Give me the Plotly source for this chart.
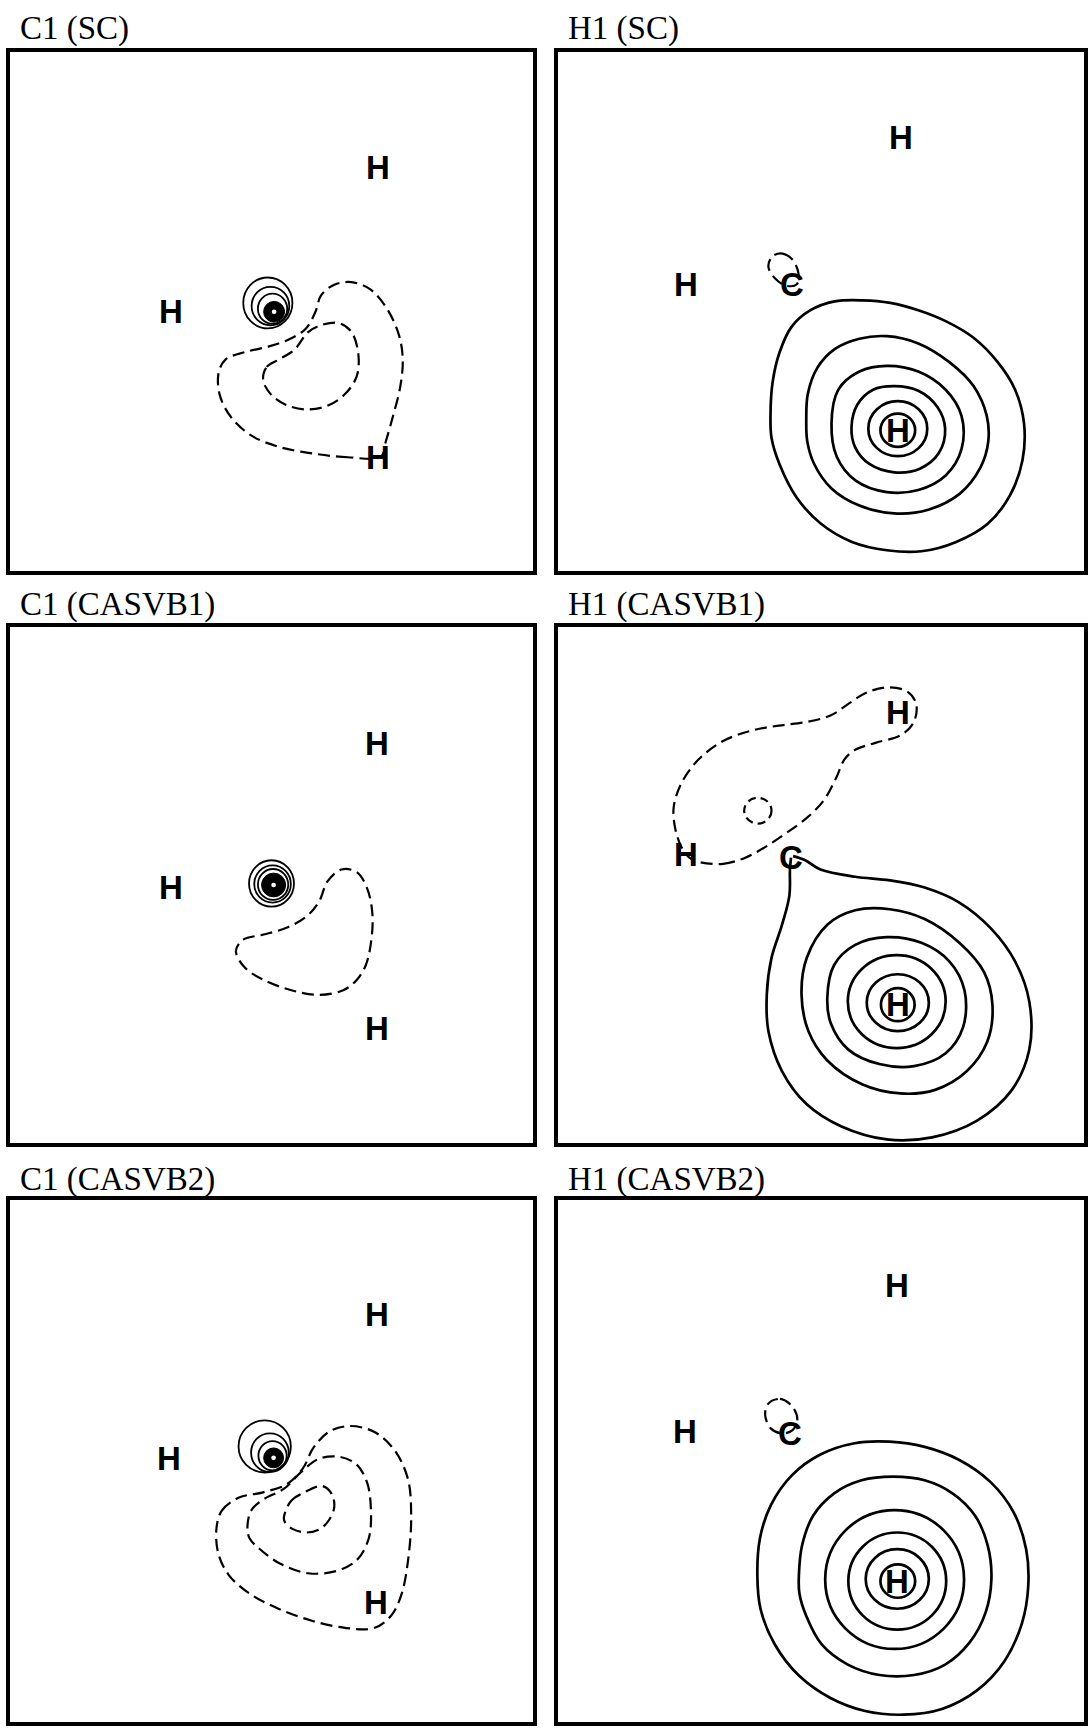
import plotly.graph_objects as go

FIG_W, FIG_H = 1088, 1729

# ---------------------------------------------------------------------------
# Panel titles (row by row, left then right)
# ---------------------------------------------------------------------------
TITLES = ["C1 (SC)", "H1 (SC)", "C1 (CASVB1)", "H1 (CASVB1)", "C1 (CASVB2)", "H1 (CASVB2)"]

# Every panel uses the same plane coordinates: 0..100 in x and in y.

# ---------------------------------------------------------------------------
# Atom positions (symbol, x, y)
# ---------------------------------------------------------------------------
ATOMS_C1_SC = [("H", 70.3, 77.6), ("H", 30.7, 49.9), ("H", 70.3, 21.9)]
ATOMS_H1_SC = [("H", 65.2, 83.4), ("H", 24.3, 55.2), ("C", 44.4, 55.2), ("H", 64.6, 27.1)]
ATOMS_C1_CASVB1 = [("H", 70.2, 77.5), ("H", 30.7, 49.6), ("H", 70.2, 22.1)]
ATOMS_H1_CASVB1 = [("H", 64.6, 83.4), ("H", 24.3, 55.9), ("C", 44.3, 55.3), ("H", 64.6, 26.8)]
ATOMS_C1_CASVB2 = [("H", 70.1, 78.0), ("H", 30.4, 50.4), ("H", 69.9, 22.9)]
ATOMS_H1_CASVB2 = [("H", 64.4, 83.6), ("H", 24.2, 55.7), ("C", 44.2, 55.3), ("H", 64.5, 27.0)]

# ---------------------------------------------------------------------------
# Near-circular contours (cx, cy, rx, ry)
# ---------------------------------------------------------------------------
# carbon core rings, outermost first
CORE_C1_SC = [(49.3, 51.6, 4.7, 4.9), (49.8, 51.0, 3.6, 3.7), (50.2, 50.5, 2.8, 2.9)]
CORE_C1_CASVB1 = [(50.0, 50.3, 4.3, 4.5), (50.2, 50.2, 3.5, 3.6), (50.3, 50.1, 2.9, 3.0)]
CORE_C1_CASVB2 = [(48.7, 52.8, 5.0, 5.0), (49.7, 51.6, 3.6, 3.7), (50.2, 51.0, 2.7, 2.8)]
# dense nucleus region (cx, cy, r) and its centre dot
NUC_C1_SC = (50.5, 49.9, 2.0)
NUC_C1_CASVB1 = (50.4, 50.0, 2.3)
NUC_C1_CASVB2 = (50.4, 50.6, 1.9)
NUC_DOT_R = 0.45

# innermost positive rings around the hydrogen
RINGS_H1_SC = [(64.6, 27.4, 5.6, 5.3), (64.6, 27.1, 3.3, 3.2)]
RINGS_H1_CASVB1 = [(64.4, 27.4, 9.3, 9.0), (64.6, 27.2, 5.9, 5.5), (64.6, 26.8, 3.2, 3.2)]
RINGS_H1_CASVB2 = [(64.0, 27.3, 13.2, 13.3), (64.5, 27.0, 9.3, 9.3), (64.5, 27.4, 6.0, 5.7), (64.6, 27.0, 3.3, 3.2)]
# small negative oval
OVAL_H1_CASVB1 = [(38.0, 64.4, 2.6, 2.5)]

# ---------------------------------------------------------------------------
# Free-form contours (point lists, x, y); closed unless noted
# ---------------------------------------------------------------------------
C1_SC_NEG_OUTER = [
    (70.9, 22.0), (64.6, 21.9), (58.0, 22.6), (51.4, 23.9), (46.1, 26.1), (42.2, 29.7),
    (40.1, 33.9), (39.9, 38.2), (41.2, 40.7), (44.8, 42.1), (49.4, 43.2), (53.4, 44.6),
    (56.6, 46.7), (58.4, 49.9), (59.5, 53.1), (62.0, 55.1), (65.3, 55.6), (68.9, 54.2),
    (72.2, 50.3), (74.4, 45.3), (75.1, 40.7), (74.6, 35.4), (73.2, 29.7), (71.9, 25.1),
]
C1_SC_NEG_INNER = [
    (48.4, 36.8), (49.1, 39.3), (51.4, 40.7), (54.4, 42.6), (57.0, 46.0), (59.7, 47.4),
    (63.0, 47.7), (65.3, 46.0), (66.6, 41.8), (66.3, 37.5), (64.1, 34.1), (60.7, 31.8),
    (56.7, 31.1), (52.7, 32.0), (49.8, 34.1),
]

H1_SC_NEG_C = [
    (40.8, 60.6), (42.7, 61.1), (44.6, 59.9), (45.7, 57.4), (45.4, 55.2), (43.4, 54.9),
    (41.3, 56.3), (40.0, 58.6),
]
H1_SC_POS_1 = [
    (40.4, 29.9), (40.8, 36.3), (42.1, 42.0), (44.4, 47.0), (48.0, 50.2), (52.6, 51.9),
    (57.9, 52.1), (63.2, 51.6), (68.5, 50.2), (73.7, 48.1), (79.0, 44.9), (83.6, 40.2),
    (86.9, 34.9), (88.6, 28.4), (88.3, 21.3), (85.9, 14.5), (81.7, 9.1), (75.7, 5.6),
    (69.1, 3.8), (62.5, 4.0), (55.9, 5.6), (50.0, 9.1), (45.4, 14.1), (42.1, 20.6),
    (40.6, 25.6),
]
H1_SC_POS_2 = [
    (47.2, 29.1), (47.5, 34.1), (49.3, 39.1), (52.6, 42.7), (57.3, 44.7), (62.5, 45.2),
    (68.5, 43.8), (74.4, 40.2), (79.0, 35.6), (81.5, 29.9), (81.8, 24.9), (80.3, 19.9),
    (76.4, 14.9), (70.4, 11.8), (63.9, 11.1), (57.3, 12.6), (52.0, 15.9), (48.7, 20.6),
    (47.4, 24.9),
]
H1_SC_POS_3 = [
    (52.0, 28.4), (53.3, 34.9), (57.3, 38.4), (62.5, 39.5), (68.5, 38.4), (73.7, 34.9),
    (76.7, 29.9), (76.7, 23.4), (73.7, 18.4), (68.5, 15.6), (62.5, 15.2), (56.6, 17.4),
    (53.0, 22.0),
]
H1_SC_POS_4 = [
    (55.8, 27.7), (56.9, 32.0), (59.9, 34.9), (63.9, 35.6), (68.5, 34.7), (72.1, 31.6),
    (73.6, 27.4), (72.4, 22.7), (68.8, 19.7), (63.9, 19.0), (59.2, 20.6), (56.5, 23.8),
]

C1_CASVB1_NEG = [
    (43.2, 37.2), (44.6, 39.4), (48.5, 40.4), (53.1, 41.8), (56.8, 44.0), (59.1, 46.8),
    (60.7, 50.7), (63.4, 53.0), (66.3, 52.5), (68.3, 49.3), (69.3, 44.3), (69.0, 38.7),
    (68.0, 34.4), (66.3, 31.6), (63.7, 29.6), (59.1, 28.7), (53.8, 29.6), (48.5, 31.6),
    (44.9, 34.0),
]

H1_CASVB1_NEG = [
    (27.1, 54.4), (31.4, 54.1), (35.4, 55.2), (39.3, 57.3), (43.3, 60.0), (47.3, 63.0),
    (50.6, 66.5), (52.9, 70.8), (54.5, 74.4), (56.5, 76.2), (60.5, 77.6), (65.1, 79.0),
    (67.6, 81.5), (68.1, 85.1), (66.4, 87.5), (62.5, 88.3), (58.5, 87.2), (55.2, 85.1),
    (51.9, 82.9), (47.3, 81.6), (42.0, 80.9), (36.7, 79.9), (31.4, 77.9), (26.8, 74.4),
    (23.5, 69.8), (22.0, 65.1), (22.3, 60.9), (23.5, 57.3), (25.1, 55.2),
]
# teardrop with its tip on the carbon: drawn open, both ends at the tip
H1_CASVB1_POS_1 = [
    (44.7, 55.6), (47.0, 54.8), (49.9, 53.0), (56.5, 51.6), (63.1, 50.9), (69.7, 49.5),
    (76.3, 46.6), (82.3, 41.6), (86.9, 35.2), (89.6, 27.4), (89.6, 18.1), (86.3, 10.3),
    (79.6, 4.3), (71.1, 1.1), (62.5, 0.7), (53.9, 3.2), (47.3, 7.5), (42.6, 13.9),
    (40.0, 21.7), (39.7, 28.8), (40.6, 35.9), (42.6, 42.3), (44.0, 48.0), (44.1, 53.0),
    (44.3, 55.3),
]
H1_CASVB1_POS_2 = [
    (46.3, 28.8), (47.3, 35.9), (51.2, 42.3), (56.5, 45.1), (63.1, 45.3), (69.7, 43.4),
    (76.3, 38.8), (81.0, 33.1), (82.6, 26.7), (81.6, 19.6), (77.7, 13.9), (71.7, 10.3),
    (65.1, 9.6), (57.8, 11.4), (51.2, 16.0), (47.6, 21.7),
]
H1_CASVB1_POS_3 = [
    (51.2, 28.1), (52.5, 34.5), (56.5, 38.4), (62.5, 39.9), (69.1, 38.8), (74.4, 35.2),
    (77.3, 29.5), (77.0, 22.4), (73.7, 17.4), (67.7, 14.9), (61.1, 15.3), (55.2, 18.1),
    (51.9, 23.1),
]

C1_CASVB2_NEG_1 = [
    (39.5, 37.3), (40.5, 40.5), (43.8, 43.0), (48.4, 44.0), (53.0, 45.6), (56.0, 48.6),
    (58.0, 52.5), (61.0, 55.6), (64.9, 56.7), (69.6, 55.6), (73.5, 52.1), (76.1, 46.5),
    (76.7, 39.4), (76.2, 31.7), (74.9, 24.6), (72.9, 20.4), (69.6, 18.0), (64.3, 18.0),
    (57.7, 19.4), (51.1, 21.8), (45.8, 24.6), (41.8, 28.2), (39.8, 32.4),
]
C1_CASVB2_NEG_2 = [
    (45.4, 37.3), (46.1, 40.5), (48.4, 42.6), (52.4, 44.7), (55.7, 47.9), (59.0, 50.4),
    (63.0, 50.8), (66.3, 49.3), (68.3, 45.8), (69.0, 40.8), (68.6, 35.2), (66.3, 31.0),
    (62.3, 28.9), (57.0, 28.5), (51.7, 30.3), (47.8, 33.1), (45.8, 35.2),
]
C1_CASVB2_NEG_3 = [
    (52.4, 39.4), (53.7, 42.3), (56.3, 44.0), (59.7, 45.2), (61.5, 43.7), (62.0, 41.2),
    (61.0, 38.7), (59.3, 37.0), (56.7, 36.3), (54.0, 37.0), (52.5, 38.4),
]

H1_CASVB2_NEG_C = [
    (39.9, 60.9), (42.2, 61.9), (44.5, 60.5), (45.5, 58.0), (44.6, 55.9), (42.5, 55.3),
    (40.5, 56.2), (39.4, 58.7),
]
H1_CASVB2_POS_1 = [
    (37.9, 28.1), (38.4, 35.2), (40.5, 41.6), (44.5, 47.3), (49.8, 51.2), (56.4, 53.4),
    (63.0, 53.7), (69.7, 52.7), (76.3, 50.2), (82.3, 45.9), (86.6, 40.2), (89.0, 33.1),
    (89.4, 26.0), (88.2, 18.9), (84.9, 11.7), (79.6, 6.0), (73.0, 2.5), (65.7, 1.4),
    (58.4, 2.1), (51.8, 4.6), (45.8, 8.9), (41.2, 14.9), (38.5, 21.7),
]
H1_CASVB2_POS_2 = [
    (45.8, 28.1), (46.4, 33.8), (48.5, 39.5), (52.5, 43.8), (57.7, 46.3), (63.7, 47.0),
    (69.7, 46.3), (75.0, 43.8), (79.3, 39.5), (81.7, 33.8), (82.4, 27.4), (81.3, 21.0),
    (78.3, 15.3), (73.6, 11.0), (67.7, 9.0), (61.1, 9.0), (55.1, 11.0), (50.1, 14.9),
    (47.2, 20.3), (45.9, 24.6),
]

# ---------------------------------------------------------------------------
# Panel assembly
# ---------------------------------------------------------------------------
PANELS = [
    dict(title=TITLES[0], atoms=ATOMS_C1_SC, core=CORE_C1_SC, nucleus=NUC_C1_SC,
         pos=[], pos_open=[], neg=[C1_SC_NEG_OUTER, C1_SC_NEG_INNER], rings=[], ovals=[]),
    dict(title=TITLES[1], atoms=ATOMS_H1_SC, core=[], nucleus=None,
         pos=[H1_SC_POS_1, H1_SC_POS_2, H1_SC_POS_3, H1_SC_POS_4], pos_open=[],
         neg=[H1_SC_NEG_C], rings=RINGS_H1_SC, ovals=[]),
    dict(title=TITLES[2], atoms=ATOMS_C1_CASVB1, core=CORE_C1_CASVB1, nucleus=NUC_C1_CASVB1,
         pos=[], pos_open=[], neg=[C1_CASVB1_NEG], rings=[], ovals=[]),
    dict(title=TITLES[3], atoms=ATOMS_H1_CASVB1, core=[], nucleus=None,
         pos=[H1_CASVB1_POS_2, H1_CASVB1_POS_3], pos_open=[H1_CASVB1_POS_1],
         neg=[H1_CASVB1_NEG], rings=RINGS_H1_CASVB1, ovals=OVAL_H1_CASVB1),
    dict(title=TITLES[4], atoms=ATOMS_C1_CASVB2, core=CORE_C1_CASVB2, nucleus=NUC_C1_CASVB2,
         pos=[], pos_open=[], neg=[C1_CASVB2_NEG_1, C1_CASVB2_NEG_2, C1_CASVB2_NEG_3],
         rings=[], ovals=[]),
    dict(title=TITLES[5], atoms=ATOMS_H1_CASVB2, core=[], nucleus=None,
         pos=[H1_CASVB2_POS_1, H1_CASVB2_POS_2], pos_open=[], neg=[H1_CASVB2_NEG_C],
         rings=RINGS_H1_CASVB2, ovals=[]),
]

# frame placement in pixels: columns (left, right), rows (top, bottom)
COLS = [(10, 534), (559, 1086)]
ROWS = [(51.5, 571), (627, 1143), (1200, 1722)]
TITLE_X = [18, 567]
TITLE_Y = [29, 604.5, 1179]

SOLID_W = 2.7
DASH_W = 2.2
DASH = "12px,6px"
CORE_W = 1.8
FRAME_W = 3.8
ATOM_FONT = dict(family="Liberation Sans", size=33, color="black", weight="bold")
TITLE_FONT = dict(family="Liberation Serif", size=33, color="black")


def px_x(v):
    return v / FIG_W


def px_y(v):
    return 1 - v / FIG_H


def closed(pts):
    # repeating the first point makes the spline close smoothly
    xs = [p[0] for p in pts] + [pts[0][0]]
    ys = [p[1] for p in pts] + [pts[0][1]]
    return xs, ys


def opened(pts):
    return [p[0] for p in pts], [p[1] for p in pts]


def add_curve(fig, xs, ys, xref, yref, dashed):
    line = dict(color="black", width=DASH_W if dashed else SOLID_W, shape="spline", smoothing=1.0)
    if dashed:
        line["dash"] = DASH
    fig.add_trace(go.Scatter(x=xs, y=ys, xaxis=xref, yaxis=yref, mode="lines", line=line,
                             hoverinfo="skip", showlegend=False))


fig = go.Figure()
shapes = []
annotations = []
layout_axes = {}

for i, panel in enumerate(PANELS):
    row, col = divmod(i, 2)
    n = "" if i == 0 else str(i + 1)
    xref, yref = "x" + n, "y" + n
    axis_style = dict(range=[0, 100], showline=True, mirror=True, linecolor="black",
                      linewidth=FRAME_W, showgrid=False, zeroline=False,
                      showticklabels=False, ticks="", fixedrange=True)
    layout_axes["xaxis" + n] = dict(axis_style, domain=[px_x(COLS[col][0]), px_x(COLS[col][1])],
                                    anchor=yref)
    layout_axes["yaxis" + n] = dict(axis_style, domain=[px_y(ROWS[row][1]), px_y(ROWS[row][0])],
                                    anchor=xref)

    for pts in panel["pos"]:
        add_curve(fig, *closed(pts), xref, yref, dashed=False)
    for pts in panel["pos_open"]:
        add_curve(fig, *opened(pts), xref, yref, dashed=False)
    for pts in panel["neg"]:
        add_curve(fig, *closed(pts), xref, yref, dashed=True)

    for cx, cy, rx, ry in panel["rings"]:
        shapes.append(dict(type="circle", xref=xref, yref=yref, x0=cx - rx, x1=cx + rx,
                           y0=cy - ry, y1=cy + ry, line=dict(color="black", width=SOLID_W)))
    for cx, cy, rx, ry in panel["ovals"]:
        shapes.append(dict(type="circle", xref=xref, yref=yref, x0=cx - rx, x1=cx + rx,
                           y0=cy - ry, y1=cy + ry,
                           line=dict(color="black", width=DASH_W, dash="8px,5px")))
    for cx, cy, rx, ry in panel["core"]:
        shapes.append(dict(type="circle", xref=xref, yref=yref, x0=cx - rx, x1=cx + rx,
                           y0=cy - ry, y1=cy + ry, line=dict(color="black", width=CORE_W)))
    if panel["nucleus"] is not None:
        cx, cy, r = panel["nucleus"]
        shapes.append(dict(type="circle", xref=xref, yref=yref, x0=cx - r, x1=cx + r,
                           y0=cy - r, y1=cy + r, fillcolor="black",
                           line=dict(color="black", width=1)))
        shapes.append(dict(type="circle", xref=xref, yref=yref, x0=cx - NUC_DOT_R, x1=cx + NUC_DOT_R,
                           y0=cy - NUC_DOT_R, y1=cy + NUC_DOT_R, fillcolor="white",
                           line=dict(width=0)))

    for sym, ax_, ay_ in panel["atoms"]:
        annotations.append(dict(x=ax_, y=ay_, xref=xref, yref=yref, text=sym, showarrow=False,
                                xanchor="center", yanchor="middle", font=ATOM_FONT))

    annotations.append(dict(x=px_x(TITLE_X[col]), y=px_y(TITLE_Y[row]), xref="paper", yref="paper",
                            text=panel["title"], showarrow=False, xanchor="left", yanchor="middle",
                            font=TITLE_FONT))

fig.update_layout(
    width=FIG_W, height=FIG_H,
    margin=dict(l=0, r=0, t=0, b=0),
    paper_bgcolor="white", plot_bgcolor="white",
    shapes=shapes, annotations=annotations,
    **layout_axes,
)

fig.write_html("out.html", config={"displayModeBar": False})
